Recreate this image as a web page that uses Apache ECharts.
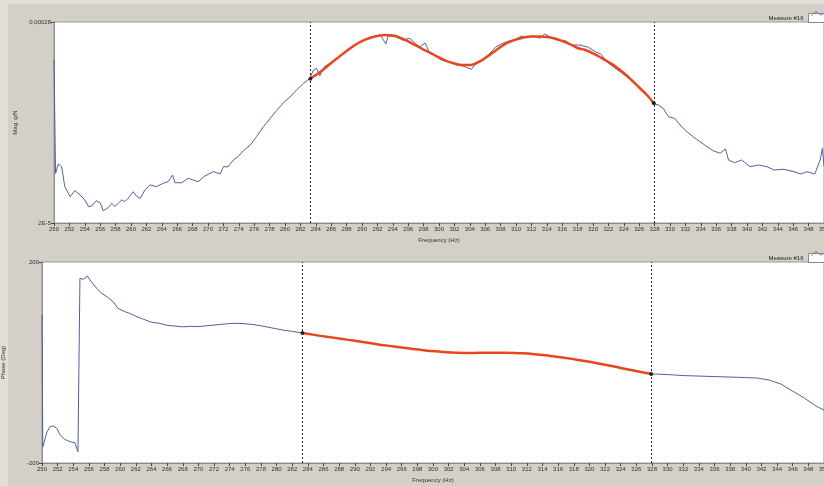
<!DOCTYPE html>
<html>
<head>
<meta charset="utf-8">
<script src="https://cdn.jsdelivr.net/npm/echarts@6/dist/echarts.min.js"></script>
<style>
  html, body { margin: 0; padding: 0; background: #d4d0c8; }
  #chart { width: 824px; height: 486px; }
</style>
</head>
<body>
<div id="chart"></div>
<script>
// Measured FRF, magnitude (g/N) vs frequency (Hz)
const magFreq = [250.0,250.2,250.56,251.0,251.4,252.1,252.7,253.4,254.0,254.5,254.9,255.5,256.0,256.4,257.1,257.5,257.9,258.4,258.8,259.2,259.6,260.3,260.7,261.2,261.8,262.5,263.3,264.2,264.8,265.4,265.7,266.6,267.4,268.1,268.7,269.6,270.7,271.6,272.0,272.6,273.3,273.9,274.6,275.5,276.3,277.2,278.1,278.9,279.8,280.6,281.5,282.4,283.2,283.7,284.1,284.5,285.1,286.2,287.0,287.9,288.7,290.0,291.3,292.4,293.1,293.4,294.5,295.3,296.2,297.0,297.5,298.2,298.8,299.5,300.1,300.6,301.4,302.3,303.1,304.2,304.8,305.7,306.6,307.4,308.3,309.2,310.0,310.7,311.3,312.2,313.1,313.7,314.2,315.3,316.4,317.2,318.3,319.4,320.3,321.0,321.8,322.7,323.7,324.8,325.9,327.0,327.8,328.5,329.1,329.8,330.6,331.3,332.2,333.0,333.9,334.8,335.6,336.5,337.2,337.6,338.4,339.3,340.4,341.5,342.6,343.5,344.8,346.1,347.0,347.8,348.8,349.5,349.8,350.0];
const magValue = [23.08e-5,8.43e-5,9.63e-5,9.28e-5,6.70e-5,5.40e-5,6.18e-5,5.62e-5,4.98e-5,4.11e-5,4.20e-5,4.88e-5,4.59e-5,3.59e-5,4.03e-5,4.55e-5,4.11e-5,4.63e-5,4.98e-5,4.76e-5,5.19e-5,6.05e-5,5.49e-5,5.19e-5,6.27e-5,6.92e-5,6.70e-5,7.14e-5,7.34e-5,8.21e-5,7.21e-5,7.21e-5,7.78e-5,7.56e-5,7.34e-5,8.08e-5,8.64e-5,8.34e-5,9.28e-5,9.28e-5,10.15e-5,10.58e-5,11.35e-5,12.09e-5,13.16e-5,14.46e-5,15.54e-5,16.53e-5,17.56e-5,18.26e-5,19.20e-5,20.07e-5,20.67e-5,21.79e-5,22.01e-5,21.01e-5,22.22e-5,22.86e-5,23.51e-5,24.16e-5,24.80e-5,25.58e-5,26.10e-5,26.32e-5,25.15e-5,26.19e-5,26.10e-5,25.67e-5,25.89e-5,25.15e-5,24.80e-5,25.28e-5,23.95e-5,23.73e-5,23.17e-5,22.99e-5,22.86e-5,22.44e-5,22.31e-5,21.88e-5,22.66e-5,23.08e-5,23.95e-5,24.80e-5,25.24e-5,25.58e-5,25.76e-5,26.19e-5,26.02e-5,26.19e-5,25.89e-5,26.45e-5,26.19e-5,25.67e-5,25.58e-5,25.02e-5,25.02e-5,24.73e-5,24.16e-5,23.86e-5,22.86e-5,22.14e-5,21.44e-5,20.59e-5,19.63e-5,18.56e-5,17.48e-5,17.26e-5,16.84e-5,15.75e-5,15.54e-5,14.68e-5,13.81e-5,13.16e-5,12.52e-5,11.87e-5,11.35e-5,11.02e-5,11.57e-5,10.15e-5,9.80e-5,10.15e-5,9.28e-5,9.50e-5,9.28e-5,8.86e-5,8.95e-5,8.64e-5,8.34e-5,8.64e-5,8.34e-5,10.15e-5,11.66e-5,9.37e-5];

// Fitted magnitude between the two cursors
const magFitFreq = [283.3,284,285,286,287,288,289,290,291,292,293,294,295,296,297,298,299,300,301,302,303,304,305,306,307,308,309,310,311,312,313,314,315,316,317,318,319,320,321,322,323,324,325,326,327,327.9];
const magFitValue = [20.67e-5,21.14e-5,21.86e-5,22.70e-5,23.47e-5,24.25e-5,24.96e-5,25.54e-5,25.93e-5,26.19e-5,26.32e-5,26.25e-5,25.93e-5,25.48e-5,24.96e-5,24.44e-5,23.93e-5,23.41e-5,22.95e-5,22.63e-5,22.44e-5,22.44e-5,22.76e-5,23.34e-5,24.05e-5,24.77e-5,25.35e-5,25.74e-5,25.99e-5,26.12e-5,26.12e-5,26.06e-5,25.87e-5,25.54e-5,25.15e-5,24.64e-5,24.38e-5,23.93e-5,23.41e-5,22.83e-5,22.18e-5,21.40e-5,20.50e-5,19.53e-5,18.56e-5,17.48e-5];

// Measured phase (deg) vs frequency (Hz)
const phaseFreq = [250.0,250.1,250.2,250.6,251.0,251.4,251.9,252.3,252.9,253.6,254.2,254.6,254.85,255.3,255.8,256.3,257.0,257.6,258.3,259.1,259.7,260.6,261.2,262.0,263.0,264.0,265.0,266.0,267.0,268.0,269.0,270.0,271.0,272.0,273.0,274.0,275.0,276.0,277.0,278.0,279.0,280.0,281.0,282.0,283.2,284,285,286,287,288,289,290,291,292,293,294,295,296,297,298,299,300,301,302,303,304,305,306,307,308,309,310,311,312,313,314,315,316,317,318,319,320,321,322,323,324,325,326,327,327.8,328.5,330,332,334,336,338,340,341.5,343,344.5,346,347.5,349,350];
const phaseValue = [94.5,-168,-170.7,-140,-127.7,-126,-131,-144,-153,-157.6,-159.6,-177.5,167.5,165.6,172,160.8,147.6,137.7,131,121,107.9,101,97.9,92,86,80,78,74,72.5,71,72,71.5,73,74.5,76,77.5,78,77,75.5,73,70,67,64,62,58.7,57,54.8,52,50.3,47.5,45.8,43,41.2,38.5,36.3,34,32.2,29.8,28.3,25.8,24.3,22.5,21.8,20.2,19.8,19.1,19.3,18.8,19.8,19.4,19.8,18.9,18.8,17.5,16.8,14.6,13.3,11,9.4,6.8,4.3,1.2,-1.2,-4.8,-7.3,-11,-13.8,-17.2,-20,-22.9,-23,-24,-26,-27,-28,-29,-30,-31,-35,-43,-57,-71,-87,-94.5];

// Fitted phase between the two cursors
const phaseFitFreq = [283.3,285,287,289,291,293,295,297,299,301,303,305,307,309,311,313,315,317,319,321,323,325,327.9];
const phaseFitValue = [58.7,54.5,50,45.5,41,36,32,28,24,21.5,19.5,19,19.5,19.5,18.5,16.5,13,9,4,-1.5,-7.5,-14,-22.9];

// Cursor positions (Hz)
const cursors = [283.3, 327.9];

// Axis ticks / labels
const magTicks = [2e-5, 2.8e-4];
const magTickLabels = ['2E-5', '0,00028'];
const phaseTicks = [-200, 200];
const phaseTickLabels = ['-200', '200'];

const seriesName = 'Measure #16';
const zip = (a, b) => a.map((v, i) => [v, b[i]]);

const FONT = 'Liberation Sans';
const blue = '#52609a';
const red = '#e8471e';

function xAxisCfg(gridIndex) {
  return {
    type: 'value', gridIndex, min: 250, max: 350, interval: 2,
    name: 'Frequency (Hz)', nameLocation: 'middle', nameGap: 14,
    nameTextStyle: { fontFamily: FONT, fontSize: 6, color: '#333' },
    axisLine: { onZero: false, lineStyle: { color: '#8c8c8c' } },
    axisTick: { show: true, length: 3, lineStyle: { color: '#444' } },
    axisLabel: { fontFamily: FONT, fontSize: 6, color: '#333', margin: 3, showMaxLabel: true, hideOverlap: false },
    splitLine: { show: false }
  };
}

function yAxisCfg(gridIndex, name, min, max, ticks, labels) {
  return {
    type: 'value', gridIndex, min, max,
    name, nameLocation: 'middle', nameGap: 36, nameRotate: 90,
    nameTextStyle: { fontFamily: FONT, fontSize: 6, color: '#333' },
    axisLine: { show: true, onZero: false, lineStyle: { color: '#8c8c8c' } },
    axisTick: { show: true, length: 3, customValues: ticks, lineStyle: { color: '#444' } },
    axisLabel: {
      fontFamily: FONT, fontSize: 6, color: '#333', margin: 3,
      customValues: ticks,
      formatter: v => labels[ticks.findIndex(t => Math.abs(t - v) < Math.abs(max - min) * 1e-6)] || ''
    },
    splitLine: { show: false }
  };
}

const cursorLines = {
  silent: true, symbol: 'none', label: { show: false },
  lineStyle: { color: '#222', type: [2, 2], width: 1 },
  data: cursors.map(c => ({ xAxis: c }))
};

const chart = echarts.init(document.getElementById('chart'), null, { renderer: 'canvas' });
chart.setOption({
  animation: false,
  backgroundColor: '#d4d0c8',
  grid: [
    { left: 54, right: 0, top: 22, height: 201, outerBoundsMode: 'none', containLabel: false, show: true, backgroundColor: '#ffffff', borderColor: '#9a9a9a', borderWidth: 1 },
    { left: 42, right: 0, top: 262, height: 201, outerBoundsMode: 'none', containLabel: false, show: true, backgroundColor: '#ffffff', borderColor: '#9a9a9a', borderWidth: 1 }
  ],
  legend: [
    { data: [seriesName], right: -8, top: 8, align: 'right', icon: 'rect', itemWidth: 18, itemHeight: 9, itemGap: 4,
      itemStyle: { color: '#ffffff', borderColor: '#8a8a8a', borderWidth: 1 },
      textStyle: { fontFamily: FONT, fontSize: 6, color: '#222' }, selectedMode: false },
    { data: [seriesName], right: -8, top: 248, align: 'right', icon: 'rect', itemWidth: 18, itemHeight: 9, itemGap: 4,
      itemStyle: { color: '#ffffff', borderColor: '#8a8a8a', borderWidth: 1 },
      textStyle: { fontFamily: FONT, fontSize: 6, color: '#222' }, selectedMode: false }
  ],
  xAxis: [xAxisCfg(0), xAxisCfg(1)],
  yAxis: [
    yAxisCfg(0, 'Mag  g/N', magTicks[0], magTicks[1], magTicks, magTickLabels),
    yAxisCfg(1, 'Phase (Deg)', phaseTicks[0], phaseTicks[1], phaseTicks, phaseTickLabels)
  ],
  graphic: [
    { type: 'rect', shape: { x: 0, y: 0, width: 8, height: 486 }, style: { fill: '#e2dfda' }, silent: true },
    { type: 'rect', shape: { x: 0, y: 0, width: 824, height: 4 }, style: { fill: '#e2dfda' }, silent: true },
    { type: 'polyline', shape: { points: [[811, 16], [813, 14], [815, 12], [817, 12], [819, 14], [821, 15], [824, 13]], smooth: 0.5 },
      style: { stroke: '#6d7bb0', lineWidth: 1, fill: null }, silent: true, z: 100 },
    { type: 'polyline', shape: { points: [[811, 256], [813, 254], [815, 252], [817, 252], [819, 254], [821, 255], [824, 253]], smooth: 0.5 },
      style: { stroke: '#6d7bb0', lineWidth: 1, fill: null }, silent: true, z: 100 }
  ],
  series: [
    { name: seriesName, type: 'line', xAxisIndex: 0, yAxisIndex: 0, data: zip(magFreq, magValue),
      showSymbol: false, lineStyle: { color: blue, width: 1 }, itemStyle: { color: blue }, z: 2 },
    { name: 'Mag fit', type: 'line', xAxisIndex: 0, yAxisIndex: 0, data: zip(magFitFreq, magFitValue),
      smooth: true, showSymbol: false, lineStyle: { color: red, width: 2.5 }, itemStyle: { color: red }, z: 3,
      markLine: cursorLines },
    { name: 'Mag cursors', type: 'scatter', xAxisIndex: 0, yAxisIndex: 0, symbolSize: 4, z: 4,
      itemStyle: { color: '#000' },
      data: [[magFitFreq[0], magFitValue[0]], [magFitFreq[magFitFreq.length - 1], magFitValue[magFitValue.length - 1]]] },
    { name: seriesName, type: 'line', xAxisIndex: 1, yAxisIndex: 1, data: zip(phaseFreq, phaseValue),
      showSymbol: false, lineStyle: { color: blue, width: 1 }, itemStyle: { color: blue }, z: 2 },
    { name: 'Phase fit', type: 'line', xAxisIndex: 1, yAxisIndex: 1, data: zip(phaseFitFreq, phaseFitValue),
      smooth: true, showSymbol: false, lineStyle: { color: red, width: 2.5 }, itemStyle: { color: red }, z: 3,
      markLine: cursorLines },
    { name: 'Phase cursors', type: 'scatter', xAxisIndex: 1, yAxisIndex: 1, symbolSize: 4, z: 4,
      itemStyle: { color: '#000' },
      data: [[phaseFitFreq[0], phaseFitValue[0]], [phaseFitFreq[phaseFitFreq.length - 1], phaseFitValue[phaseFitValue.length - 1]]] }
  ]
});
</script>
</body>
</html>
